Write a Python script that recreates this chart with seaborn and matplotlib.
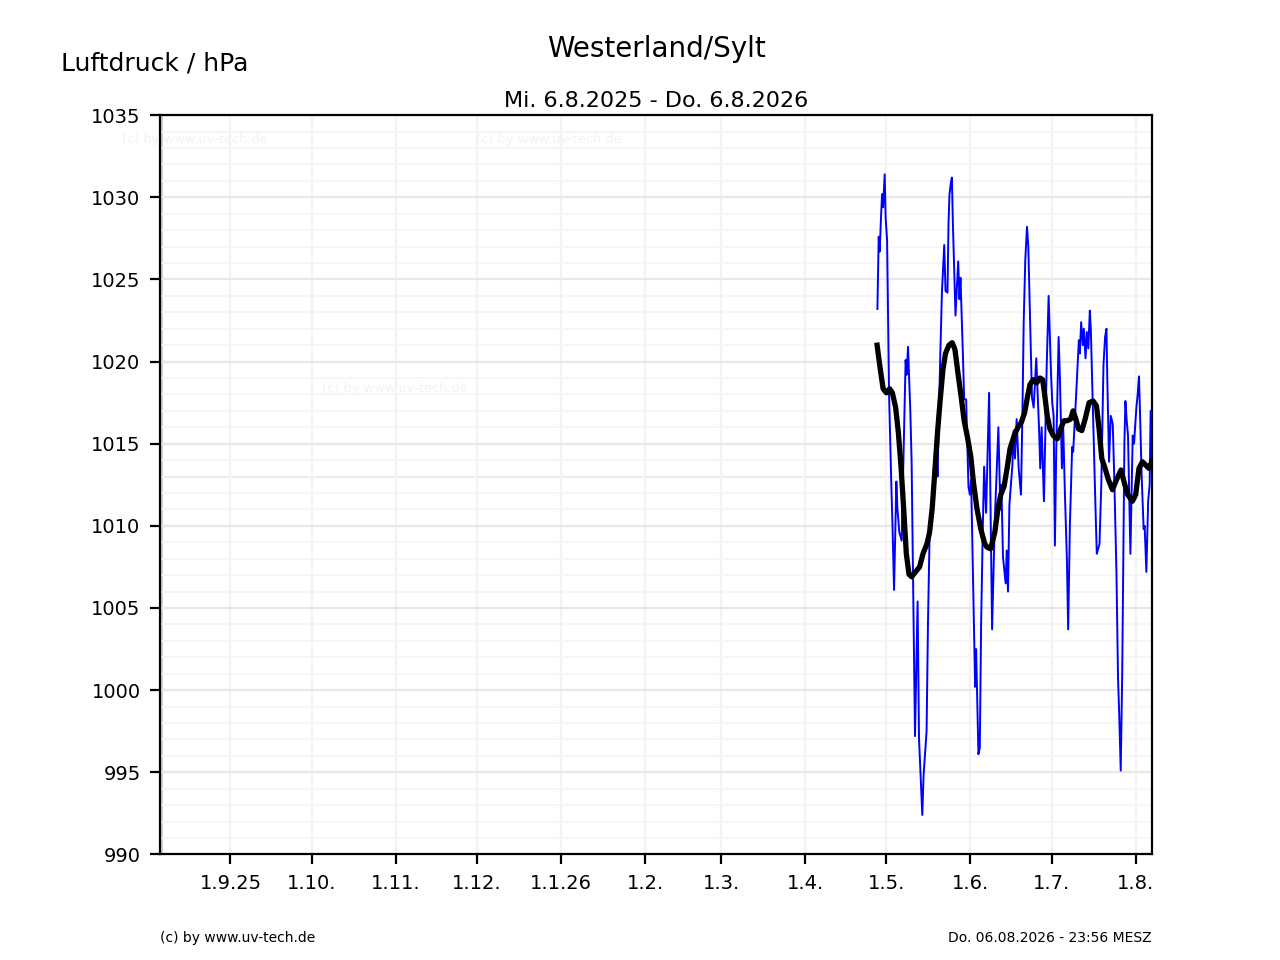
import numpy as np
import pandas as pd
import matplotlib
matplotlib.use("Agg")
import matplotlib.pyplot as plt
from matplotlib.ticker import MultipleLocator
import seaborn as sns

# Zeitraum (Achse) und Bezugstag der Messreihen
start = pd.Timestamp("2025-08-06")
ende = pd.Timestamp("2026-08-07")
bezug = pd.Timestamp("2026-05-01")

# Monatsticks
tick_daten = ["2025-09-01", "2025-10-01", "2025-11-01", "2025-12-01", "2026-01-01",
              "2026-02-01", "2026-03-01", "2026-04-01", "2026-05-01", "2026-06-01",
              "2026-07-01", "2026-08-01"]
tick_namen = ["1.9.25", "1.10.", "1.11.", "1.12.", "1.1.26", "1.2.", "1.3.",
              "1.4.", "1.5.", "1.6.", "1.7.", "1.8."]

druck_tage = [-3.31, -2.83, -2.47, -1.95, -1.58, -1.21, -0.63, -0.26, 0.26, 0.99,
              1.84, 2.21, 2.83, 3.68, 4.05, 4.78, 5.63, 7.10, 7.47, 7.98,
              8.83, 9.31, 10.56, 11.52, 12.03, 13.25, 13.72, 14.83, 15.34, 15.93,
              17.66, 18.14, 18.65, 18.87, 19.87, 20.49, 21.34, 21.82, 22.55, 22.92,
              23.29, 23.80, 24.17, 24.54, 25.50, 26.49, 26.97, 27.34, 28.22, 28.70,
              29.43, 30.28, 30.79, 31.27, 32.74, 33.11, 33.96, 34.47, 34.95, 35.58,
              36.06, 36.79, 37.90, 39.00, 39.99, 41.32, 42.06, 42.43, 43.02, 44.02,
              44.39, 44.87, 45.39, 46.49, 46.97, 47.45, 48.07, 48.81, 49.66, 50.18,
              50.66, 51.25, 51.88, 52.36, 52.87, 53.72, 54.34, 55.30, 56.40, 56.77,
              57.29, 58.13, 59.13, 59.86, 60.71, 61.19, 61.71, 62.18, 62.66, 63.55,
              64.03, 64.76, 65.24, 65.86, 66.60, 67.07, 67.70, 68.54, 68.91, 70.02,
              71.01, 71.38, 71.86, 72.48, 72.85, 73.48, 73.95, 74.51, 75.06, 75.42,
              76.05, 77.15, 77.63, 78.63, 79.29, 80.10, 80.69, 81.20, 81.50, 82.16,
              82.78, 83.52, 84.07, 84.88, 85.47, 85.91, 86.46, 87.01, 87.82, 88.19,
              88.67, 89.15, 90.03, 90.51, 90.88, 91.36, 92.24, 92.72, 93.20, 93.64,
              94.19, 94.92, 95.29, 95.92, 96.58, 97.13, 97.50, 97.95]
druck_hpa = [1023.2, 1027.6, 1026.7, 1028.9, 1030.2, 1029.4, 1031.4, 1028.7, 1027.4, 1018.0,
             1012.4, 1010.3, 1006.1, 1012.7, 1011.1, 1009.6, 1009.1, 1020.1, 1019.2, 1020.9,
             1017.0, 1013.9, 997.2, 1005.4, 997.1, 992.4, 994.8, 997.5, 1004.0, 1009.3,
             1013.9, 1015.0, 1014.2, 1013.0, 1020.3, 1024.2, 1027.1, 1024.3, 1024.2, 1028.4,
             1030.2, 1030.9, 1031.2, 1028.4, 1022.8, 1026.1, 1023.8, 1025.1, 1020.5, 1017.7,
             1017.7, 1012.4, 1011.9, 1012.8, 1000.2, 1002.5, 996.1, 996.5, 1004.0, 1009.9,
             1013.6, 1010.8, 1018.1, 1003.7, 1010.3, 1016.0, 1011.0, 1012.5, 1008.1, 1006.5,
             1008.5, 1006.0, 1011.3, 1013.7, 1015.8, 1014.1, 1016.5, 1013.5, 1011.9, 1016.7,
             1022.4, 1026.2, 1028.2, 1027.0, 1023.5, 1017.8, 1017.2, 1020.2, 1015.6, 1013.5,
             1016.0, 1011.5, 1019.6, 1024.0, 1019.4, 1017.5, 1016.7, 1008.8, 1014.5, 1021.5,
             1019.0, 1013.5, 1016.0, 1012.0, 1008.0, 1003.7, 1010.0, 1014.8, 1014.5, 1018.0,
             1021.3, 1020.5, 1022.4, 1021.0, 1022.0, 1020.2, 1021.8, 1020.8, 1023.1, 1022.0,
             1018.0, 1011.1, 1008.3, 1008.9, 1012.5, 1019.8, 1021.5, 1022.0, 1019.0, 1013.9,
             1016.7, 1016.2, 1013.0, 1007.2, 1000.7, 998.5, 995.1, 1001.0, 1015.0, 1017.6,
             1016.4, 1015.5, 1008.3, 1012.5, 1015.5, 1015.0, 1017.2, 1018.0, 1019.1, 1016.5,
             1013.0, 1009.8, 1010.0, 1007.2, 1011.5, 1012.5, 1017.0, 1016.8]

# geglaettete Kurve (Tage nach 1.5.2026, hPa)
mittel_tage = [-3.42, -2.47, -1.21, 0.0, 1.21, 2.21, 3.42, 4.41, 5.41, 6.36,
               7.36, 8.35, 9.31, 10.78, 12.25, 13.50, 14.97, 15.93, 16.92, 17.92,
               18.87, 19.87, 20.86, 21.82, 23.07, 24.28, 25.28, 26.49, 27.71, 28.70,
               29.91, 31.16, 32.12, 33.37, 34.84, 36.31, 37.16, 38.44, 39.99, 41.21,
               42.20, 43.42, 44.63, 45.62, 47.35, 48.56, 49.78, 51.03, 51.99, 52.98,
               54.19, 55.44, 56.66, 57.65, 58.39, 59.35, 60.34, 61.56, 63.03, 64.28,
               65.49, 66.71, 67.96, 68.91, 69.91, 70.90, 72.11, 73.33, 74.80, 76.27,
               77.52, 78.48, 79.47, 80.69, 81.94, 83.41, 84.88, 86.57, 87.82, 89.04,
               90.77, 91.98, 93.20, 94.45, 95.66, 96.88, 97.87]
mittel_hpa = [1021.0, 1019.8, 1018.35, 1018.1, 1018.35, 1018.1, 1017.2, 1015.7, 1013.6, 1011.1,
              1008.3, 1007.05, 1006.9, 1007.2, 1007.5, 1008.3, 1008.9, 1009.6, 1011.1, 1013.4,
              1015.7, 1017.7, 1019.5, 1020.5, 1021.0, 1021.15, 1020.75, 1019.2, 1017.7, 1016.4,
              1015.4, 1014.2, 1012.65, 1011.1, 1009.8, 1008.9, 1008.7, 1008.6, 1009.6, 1011.1,
              1011.9, 1012.4, 1013.6, 1014.7, 1015.6, 1016.0, 1016.3, 1016.9, 1017.8, 1018.6,
              1018.9, 1018.7, 1019.0, 1018.9, 1018.0, 1016.7, 1015.9, 1015.5, 1015.3, 1015.9,
              1016.4, 1016.4, 1016.5, 1017.0, 1016.5, 1015.9, 1015.8, 1016.5, 1017.5, 1017.6,
              1017.3, 1015.9, 1014.1, 1013.5, 1012.8, 1012.2, 1012.8, 1013.4, 1012.6, 1011.9,
              1011.5, 1011.9, 1013.5, 1013.9, 1013.7, 1013.5, 1013.9]

normaldruck = 1013

druck = pd.DataFrame({"zeit": bezug + pd.to_timedelta(druck_tage, unit="D"),
                      "hPa": druck_hpa})
mittel = pd.DataFrame({"zeit": bezug + pd.to_timedelta(mittel_tage, unit="D"),
                       "hPa": mittel_hpa})

fig, ax = plt.subplots(figsize=(6.4, 4.8), dpi=200)

# Gitter
ax.yaxis.set_major_locator(MultipleLocator(5))
ax.yaxis.set_minor_locator(MultipleLocator(1))
ax.grid(which="major", axis="y", color="#e8e8e8", lw=0.8, zorder=0)
ax.grid(which="minor", axis="y", color="#f5f5f5", lw=0.6, zorder=0)
ax.grid(which="major", axis="x", color="#f3f3f3", lw=0.8, zorder=0)
ax.tick_params(which="minor", left=False)

ax.axhline(normaldruck, color="#bdbdbd", lw=0.7, zorder=1)
ax.axvline(start, color="#cfcfcf", lw=2.2, zorder=1)

sns.lineplot(data=druck, x="zeit", y="hPa", color="blue", lw=0.7,
             sort=False, estimator=None, ax=ax, zorder=3)
sns.lineplot(data=mittel, x="zeit", y="hPa", color="black", lw=1.9,
             sort=False, estimator=None, ax=ax, zorder=4)

ax.set_xlim(start, ende)
ax.set_ylim(990, 1035)
ax.set_xticks(pd.to_datetime(tick_daten))
ax.set_xticklabels(tick_namen)
ax.tick_params(labelsize=7)
ax.set_xlabel("")
ax.set_ylabel("")

ax.set_title("Mi. 6.8.2025 - Do. 6.8.2026", fontsize=8, pad=3)
fig.text(0.5125, 0.949, "Westerland/Sylt", ha="center", va="center", fontsize=10)
fig.text(0.048, 0.934, "Luftdruck / hPa", ha="left", va="center", fontsize=9)
fig.text(0.125, 0.023, "(c) by www.uv-tech.de", ha="left", va="center", fontsize=5)
fig.text(0.9, 0.023, "Do. 06.08.2026 - 23:56 MESZ", ha="right", va="center", fontsize=5)

# Wasserzeichen
for wx, wy in [(0.0953, 0.855), (0.372, 0.855), (0.2516, 0.595)]:
    fig.text(wx, wy, "(c) by www.uv-tech.de", ha="left", va="center",
             fontsize=4.7, color="#f3f3f3")

fig.savefig("out.png", dpi=200)
